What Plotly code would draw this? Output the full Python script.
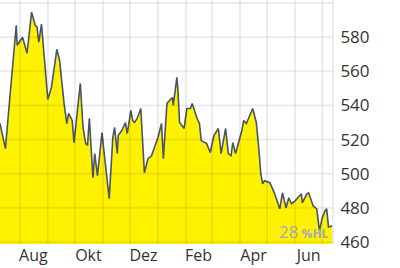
import plotly.graph_objects as go
import pandas as pd

dates = [
    "2023-07-10", "2023-07-16", "2023-07-18", "2023-07-24", "2023-07-28", "2023-07-29",
    "2023-08-04", "2023-08-09", "2023-08-14", "2023-08-18", "2023-08-20", "2023-08-22",
    "2023-08-25", "2023-09-01", "2023-09-05", "2023-09-11", "2023-09-14", "2023-09-19",
    "2023-09-22", "2023-09-24", "2023-09-28", "2023-09-30", "2023-10-07", "2023-10-10",
    "2023-10-13", "2023-10-15", "2023-10-17", "2023-10-21", "2023-10-23", "2023-10-26",
    "2023-10-31", "2023-11-03", "2023-11-08", "2023-11-12", "2023-11-14", "2023-11-17",
    "2023-11-18", "2023-11-22", "2023-11-26", "2023-11-28", "2023-12-02", "2023-12-04",
    "2023-12-06", "2023-12-09", "2023-12-13", "2023-12-17", "2023-12-21", "2023-12-25",
    "2024-01-01", "2024-01-05", "2024-01-07", "2024-01-11", "2024-01-14", "2024-01-17",
    "2024-01-18", "2024-01-22", "2024-01-23", "2024-01-25", "2024-01-30", "2024-02-02",
    "2024-02-06", "2024-02-08", "2024-02-13", "2024-02-16", "2024-02-18", "2024-02-24",
    "2024-02-28", "2024-03-03", "2024-03-08", "2024-03-11", "2024-03-16", "2024-03-19",
    "2024-03-22", "2024-03-24", "2024-03-27", "2024-04-03", "2024-04-05", "2024-04-08",
    "2024-04-15", "2024-04-19", "2024-04-22", "2024-04-24", "2024-04-26", "2024-04-28",
    "2024-05-04", "2024-05-09", "2024-05-15", "2024-05-18", "2024-05-22", "2024-05-25",
    "2024-05-28", "2024-06-01", "2024-06-08", "2024-06-09", "2024-06-14", "2024-06-16",
    "2024-06-21", "2024-06-25", "2024-06-28", "2024-07-01", "2024-07-04", "2024-07-06",
    "2024-07-08", "2024-07-12",
]

prices = [
    529.4, 514.7, 527.1, 562.3, 587.0, 575.3,
    580.0, 570.6, 594.7, 587.0, 585.9, 577.1,
    587.6, 543.5, 550.6, 572.9, 566.5, 541.2,
    529.4, 535.3, 531.2, 518.2, 552.9, 527.1,
    517.6, 516.5, 532.4, 497.6, 511.8, 498.8,
    524.1, 509.4, 485.3, 521.2, 527.1, 511.8,
    522.4, 525.3, 530.0, 523.5, 537.1, 531.2,
    530.0, 532.4, 538.2, 500.6, 508.8, 510.6,
    521.2, 529.4, 508.8, 541.2, 542.9, 544.7,
    540.0, 556.5, 550.6, 530.0, 526.5, 538.2,
    538.2, 541.2, 532.9, 529.4, 519.4, 517.6,
    512.4, 522.4, 526.5, 511.8, 526.5, 511.8,
    510.6, 518.2, 511.8, 525.3, 531.2, 529.4,
    538.2, 530.0, 513.5, 500.0, 494.1, 495.9,
    494.7, 488.8, 479.4, 488.8, 480.0, 485.9,
    482.4, 484.1, 488.2, 482.9, 488.2, 488.8,
    481.2, 479.4, 466.5, 474.1, 478.2, 479.4,
    468.8, 469.4,
]

x_range = ["2023-07-10", "2024-07-13"]
x_tick_vals = ["2023-08-16", "2023-10-16", "2023-12-16", "2024-02-15", "2024-04-16", "2024-06-16"]
x_tick_text = ["Aug", "Okt", "Dez", "Feb", "Apr", "Jun"]
y_tick_vals = [460, 480, 500, 520, 540, 560, 580, 600]
y_tick_text = ["460", "480", "500", "520", "540", "560", "580", ""]
month_starts = pd.date_range("2023-08-01", "2024-07-01", freq="MS")

grid = "rgba(0,0,0,0.075)"
font_family = "Open Sans, sans-serif"

fig = go.Figure()
fig.add_trace(go.Scatter(
    x=dates, y=prices, mode="lines",
    line=dict(color="#4a5465", width=1.6),
    fill="tozeroy", fillcolor="#fff200",
    hoverinfo="skip", showlegend=False,
))

shapes = []
for m in month_starts:
    shapes.append(dict(type="line", layer="above", xref="x", yref="paper",
                       x0=m, x1=m, y0=0, y1=1,
                       line=dict(color=grid, width=2)))
for v in y_tick_vals:
    shapes.append(dict(type="line", layer="above", xref="paper", yref="y",
                       x0=0, x1=1, y0=v, y1=v,
                       line=dict(color=grid, width=2)))
shapes.append(dict(type="line", layer="above", xref="paper", yref="paper",
                   x0=1, x1=1, y0=0, y1=1, line=dict(color=grid, width=2)))

fig.update_layout(
    width=400, height=268,
    margin=dict(l=0, r=67, t=0, b=24, autoexpand=False),
    paper_bgcolor="white", plot_bgcolor="white",
    font=dict(family=font_family, size=16, color="#333333"),
    xaxis=dict(
        type="date", range=x_range, automargin=False,
        tickmode="array", tickvals=x_tick_vals, ticktext=x_tick_text,
        showgrid=False, zeroline=False, ticks="",
        ticklabelstandoff=0,
        tickfont=dict(size=16, color="#333333"),
    ),
    yaxis=dict(
        side="right", range=[458.8, 601.8], automargin=False,
        tickmode="array", tickvals=y_tick_vals, ticktext=y_tick_text,
        showgrid=False, zeroline=False,
        ticks="outside", ticklen=3, tickcolor="rgba(0,0,0,0)",
        tickfont=dict(size=17, color="#333333"),
    ),
    shapes=shapes,
    annotations=[dict(
        xref="paper", yref="paper", x=1, y=0, xanchor="right", yanchor="bottom",
        xshift=-2, yshift=-1, showarrow=False,
        text="28<b><span style='font-size:12px'> %HL</span></b>",
        font=dict(family=font_family, size=17, color="#a6a6b8"),
    )],
)

fig.write_html("out.html")
